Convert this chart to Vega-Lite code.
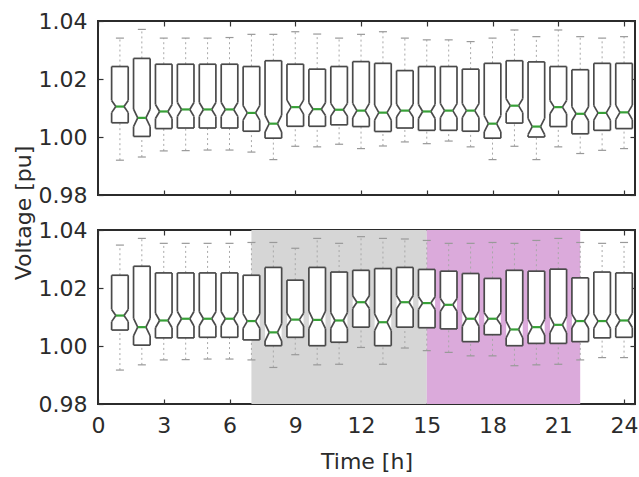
{
  "$schema": "https://vega.github.io/schema/vega-lite/v6.json",
  "description": "Voltage spread per hour, two cases, notched boxplots",
  "background": "white",
  "padding": {"left": 11, "top": 9, "right": 0, "bottom": 0},
  "bounds": "flush",
  "spacing": 35,
  "config": {
    "font": "DejaVu Sans",
    "view": {"stroke": "#2b2b2b", "strokeWidth": 2},
    "axis": {
      "domain": false,
      "grid": false,
      "tickSize": -5,
      "tickColor": "#333333",
      "tickWidth": 1.2,
      "labelFont": "DejaVu Sans",
      "labelFontSize": 22,
      "labelColor": "#2b2b2b",
      "labelPadding": 16,
      "titleFont": "DejaVu Sans",
      "titleFontSize": 22,
      "titleFontWeight": "normal",
      "titleColor": "#2b2b2b"
    },
    "axisX": {"labelFlush": false, "labelOverlap": false, "labelPadding": 16},
    "rule": {"color": "#4a4a4a", "strokeWidth": 1.7}
  },
  "datasets": {
    "top": [
      {"t": 1, "wlo": 0.9920, "q1": 1.0049, "nlo": 1.0084, "med": 1.0105, "nhi": 1.0126, "q3": 1.0243, "whi": 1.0341},
      {"t": 2, "wlo": 0.9931, "q1": 1.0002, "nlo": 1.0036, "med": 1.0066, "nhi": 1.0096, "q3": 1.0271, "whi": 1.0371},
      {"t": 3, "wlo": 0.9952, "q1": 1.0029, "nlo": 1.0064, "med": 1.0088, "nhi": 1.0112, "q3": 1.0251, "whi": 1.0341},
      {"t": 4, "wlo": 0.9953, "q1": 1.0031, "nlo": 1.0071, "med": 1.0095, "nhi": 1.0119, "q3": 1.0251, "whi": 1.0341},
      {"t": 5, "wlo": 0.9955, "q1": 1.0031, "nlo": 1.0071, "med": 1.0095, "nhi": 1.0119, "q3": 1.0251, "whi": 1.0341},
      {"t": 6, "wlo": 0.9955, "q1": 1.0031, "nlo": 1.0071, "med": 1.0095, "nhi": 1.0119, "q3": 1.0251, "whi": 1.0343},
      {"t": 7, "wlo": 0.9948, "q1": 1.0020, "nlo": 1.0058, "med": 1.0083, "nhi": 1.0108, "q3": 1.0243, "whi": 1.0354},
      {"t": 8, "wlo": 0.9922, "q1": 0.9996, "nlo": 1.0017, "med": 1.0046, "nhi": 1.0075, "q3": 1.0263, "whi": 1.0354},
      {"t": 9, "wlo": 0.9968, "q1": 1.0037, "nlo": 1.0079, "med": 1.0103, "nhi": 1.0127, "q3": 1.0251, "whi": 1.0363},
      {"t": 10, "wlo": 0.9966, "q1": 1.0037, "nlo": 1.0074, "med": 1.0096, "nhi": 1.0118, "q3": 1.0234, "whi": 1.0355},
      {"t": 11, "wlo": 0.9975, "q1": 1.0042, "nlo": 1.0072, "med": 1.0094, "nhi": 1.0116, "q3": 1.0243, "whi": 1.0341},
      {"t": 12, "wlo": 0.9960, "q1": 1.0036, "nlo": 1.0066, "med": 1.0091, "nhi": 1.0116, "q3": 1.0260, "whi": 1.0354},
      {"t": 13, "wlo": 0.9969, "q1": 1.0019, "nlo": 1.0058, "med": 1.0084, "nhi": 1.0110, "q3": 1.0254, "whi": 1.0363},
      {"t": 14, "wlo": 0.9983, "q1": 1.0031, "nlo": 1.0069, "med": 1.0091, "nhi": 1.0113, "q3": 1.0229, "whi": 1.0341},
      {"t": 15, "wlo": 0.9977, "q1": 1.0023, "nlo": 1.0064, "med": 1.0088, "nhi": 1.0112, "q3": 1.0243, "whi": 1.0335},
      {"t": 16, "wlo": 0.9986, "q1": 1.0023, "nlo": 1.0067, "med": 1.0091, "nhi": 1.0115, "q3": 1.0243, "whi": 1.0335},
      {"t": 17, "wlo": 0.9966, "q1": 1.0020, "nlo": 1.0067, "med": 1.0091, "nhi": 1.0115, "q3": 1.0234, "whi": 1.0329},
      {"t": 18, "wlo": 0.9922, "q1": 0.9996, "nlo": 1.0018, "med": 1.0046, "nhi": 1.0074, "q3": 1.0254, "whi": 1.0341},
      {"t": 19, "wlo": 0.9968, "q1": 1.0048, "nlo": 1.0084, "med": 1.0108, "nhi": 1.0132, "q3": 1.0263, "whi": 1.0369},
      {"t": 20, "wlo": 0.9922, "q1": 1.0000, "nlo": 1.0008, "med": 1.0036, "nhi": 1.0064, "q3": 1.0259, "whi": 1.0346},
      {"t": 21, "wlo": 0.9966, "q1": 1.0036, "nlo": 1.0080, "med": 1.0103, "nhi": 1.0126, "q3": 1.0243, "whi": 1.0369},
      {"t": 22, "wlo": 0.9943, "q1": 1.0011, "nlo": 1.0056, "med": 1.0080, "nhi": 1.0104, "q3": 1.0232, "whi": 1.0346},
      {"t": 23, "wlo": 0.9954, "q1": 1.0023, "nlo": 1.0058, "med": 1.0083, "nhi": 1.0108, "q3": 1.0254, "whi": 1.0341},
      {"t": 24, "wlo": 0.9960, "q1": 1.0029, "nlo": 1.0060, "med": 1.0085, "nhi": 1.0110, "q3": 1.0254, "whi": 1.0346}
    ],
    "bottom": [
      {"t": 1, "wlo": 0.9917, "q1": 1.0055, "nlo": 1.0084, "med": 1.0105, "nhi": 1.0126, "q3": 1.0244, "whi": 1.0348},
      {"t": 2, "wlo": 0.9935, "q1": 1.0003, "nlo": 1.0035, "med": 1.0065, "nhi": 1.0095, "q3": 1.0275, "whi": 1.0371},
      {"t": 3, "wlo": 0.9952, "q1": 1.0028, "nlo": 1.0063, "med": 1.0088, "nhi": 1.0113, "q3": 1.0252, "whi": 1.0354},
      {"t": 4, "wlo": 0.9953, "q1": 1.0028, "nlo": 1.0069, "med": 1.0094, "nhi": 1.0119, "q3": 1.0252, "whi": 1.0354},
      {"t": 5, "wlo": 0.9955, "q1": 1.0030, "nlo": 1.0070, "med": 1.0094, "nhi": 1.0118, "q3": 1.0252, "whi": 1.0354},
      {"t": 6, "wlo": 0.9955, "q1": 1.0030, "nlo": 1.0070, "med": 1.0094, "nhi": 1.0118, "q3": 1.0252, "whi": 1.0354},
      {"t": 7, "wlo": 0.9952, "q1": 1.0021, "nlo": 1.0061, "med": 1.0086, "nhi": 1.0111, "q3": 1.0244, "whi": 1.0357},
      {"t": 8, "wlo": 0.9926, "q1": 1.0001, "nlo": 1.0017, "med": 1.0047, "nhi": 1.0077, "q3": 1.0271, "whi": 1.0357},
      {"t": 9, "wlo": 0.9970, "q1": 1.0030, "nlo": 1.0069, "med": 1.0091, "nhi": 1.0113, "q3": 1.0227, "whi": 1.0337},
      {"t": 10, "wlo": 0.9935, "q1": 1.0001, "nlo": 1.0060, "med": 1.0090, "nhi": 1.0120, "q3": 1.0271, "whi": 1.0371},
      {"t": 11, "wlo": 0.9937, "q1": 1.0013, "nlo": 1.0061, "med": 1.0088, "nhi": 1.0115, "q3": 1.0255, "whi": 1.0354},
      {"t": 12, "wlo": 0.9995, "q1": 1.0065, "nlo": 1.0129, "med": 1.0151, "nhi": 1.0173, "q3": 1.0261, "whi": 1.0377},
      {"t": 13, "wlo": 0.9937, "q1": 1.0001, "nlo": 1.0053, "med": 1.0082, "nhi": 1.0111, "q3": 1.0267, "whi": 1.0371},
      {"t": 14, "wlo": 0.9993, "q1": 1.0065, "nlo": 1.0128, "med": 1.0151, "nhi": 1.0174, "q3": 1.0271, "whi": 1.0369},
      {"t": 15, "wlo": 0.9984, "q1": 1.0063, "nlo": 1.0126, "med": 1.0148, "nhi": 1.0170, "q3": 1.0264, "whi": 1.0364},
      {"t": 16, "wlo": 0.9978, "q1": 1.0059, "nlo": 1.0120, "med": 1.0142, "nhi": 1.0164, "q3": 1.0258, "whi": 1.0354},
      {"t": 17, "wlo": 0.9966, "q1": 1.0015, "nlo": 1.0068, "med": 1.0094, "nhi": 1.0120, "q3": 1.0250, "whi": 1.0354},
      {"t": 18, "wlo": 0.9966, "q1": 1.0039, "nlo": 1.0073, "med": 1.0094, "nhi": 1.0115, "q3": 1.0233, "whi": 1.0357},
      {"t": 19, "wlo": 0.9932, "q1": 1.0001, "nlo": 1.0028, "med": 1.0057, "nhi": 1.0086, "q3": 1.0261, "whi": 1.0354},
      {"t": 20, "wlo": 0.9935, "q1": 1.0009, "nlo": 1.0038, "med": 1.0065, "nhi": 1.0092, "q3": 1.0258, "whi": 1.0364},
      {"t": 21, "wlo": 0.9937, "q1": 1.0009, "nlo": 1.0045, "med": 1.0073, "nhi": 1.0101, "q3": 1.0265, "whi": 1.0371},
      {"t": 22, "wlo": 0.9952, "q1": 1.0015, "nlo": 1.0062, "med": 1.0086, "nhi": 1.0110, "q3": 1.0235, "whi": 1.0357},
      {"t": 23, "wlo": 0.9960, "q1": 1.0028, "nlo": 1.0061, "med": 1.0086, "nhi": 1.0111, "q3": 1.0255, "whi": 1.0354},
      {"t": 24, "wlo": 0.9960, "q1": 1.0030, "nlo": 1.0064, "med": 1.0088, "nhi": 1.0112, "q3": 1.0252, "whi": 1.0357}
    ],
    "shade": [
      {"from": 7, "to": 15, "period": "day"},
      {"from": 15, "to": 22, "period": "evening"}
    ]
  },
  "vconcat": [
    {
      "width": 537,
      "height": 174,
      "layer": [
        {
          "data": {"name": "top"},
          "encoding": {
            "x": {"field": "t", "type": "quantitative", "scale": {"domain": [0, 24.5], "nice": false}, "axis": null}
          },
          "layer": [
            {
              "mark": {"type": "rule", "color": "#a8a8a8", "strokeWidth": 1, "strokeDash": [2, 3]},
              "encoding": {
                "y": {"field": "q3", "type": "quantitative", "scale": {"domain": [0.98, 1.04], "nice": false}, "axis": null},
                "y2": {"field": "whi"}
              }
            },
            {
              "mark": {"type": "rule", "color": "#a8a8a8", "strokeWidth": 1, "strokeDash": [2, 3]},
              "encoding": {"y": {"field": "wlo", "type": "quantitative", "axis": null}, "y2": {"field": "q1"}}
            },
            {
              "mark": {"type": "rule", "color": "#999999", "strokeWidth": 1.2, "xOffset": -4, "x2Offset": 4},
              "encoding": {"x2": {"field": "t"}, "y": {"field": "whi", "type": "quantitative", "axis": null}}
            },
            {
              "mark": {"type": "rule", "color": "#999999", "strokeWidth": 1.2, "xOffset": -4, "x2Offset": 4},
              "encoding": {"x2": {"field": "t"}, "y": {"field": "wlo", "type": "quantitative", "axis": null}}
            },
            {
              "mark": {"type": "rect", "fill": "white", "xOffset": -8.3, "x2Offset": 8.3},
              "encoding": {"x2": {"field": "t"}, "y": {"field": "q1", "type": "quantitative", "axis": null}, "y2": {"field": "q3"}}
            },
            {
              "mark": {"type": "rule", "xOffset": -8.3},
              "encoding": {"y": {"field": "q1", "type": "quantitative", "axis": null}, "y2": {"field": "nlo"}}
            },
            {
              "mark": {"type": "rule", "xOffset": 8.3},
              "encoding": {"y": {"field": "q1", "type": "quantitative", "axis": null}, "y2": {"field": "nlo"}}
            },
            {
              "mark": {"type": "rule", "xOffset": -8.3},
              "encoding": {"y": {"field": "nhi", "type": "quantitative", "axis": null}, "y2": {"field": "q3"}}
            },
            {
              "mark": {"type": "rule", "xOffset": 8.3},
              "encoding": {"y": {"field": "nhi", "type": "quantitative", "axis": null}, "y2": {"field": "q3"}}
            },
            {
              "mark": {"type": "rule", "xOffset": -8.3, "x2Offset": -4.1},
              "encoding": {"x2": {"field": "t"}, "y": {"field": "nlo", "type": "quantitative", "axis": null}, "y2": {"field": "med"}}
            },
            {
              "mark": {"type": "rule", "xOffset": -8.3, "x2Offset": -4.1},
              "encoding": {"x2": {"field": "t"}, "y": {"field": "nhi", "type": "quantitative", "axis": null}, "y2": {"field": "med"}}
            },
            {
              "mark": {"type": "rule", "xOffset": 8.3, "x2Offset": 4.1},
              "encoding": {"x2": {"field": "t"}, "y": {"field": "nlo", "type": "quantitative", "axis": null}, "y2": {"field": "med"}}
            },
            {
              "mark": {"type": "rule", "xOffset": 8.3, "x2Offset": 4.1},
              "encoding": {"x2": {"field": "t"}, "y": {"field": "nhi", "type": "quantitative", "axis": null}, "y2": {"field": "med"}}
            },
            {
              "mark": {"type": "rule", "xOffset": -8.3, "x2Offset": 8.3},
              "encoding": {"x2": {"field": "t"}, "y": {"field": "q1", "type": "quantitative", "axis": null}}
            },
            {
              "mark": {"type": "rule", "xOffset": -8.3, "x2Offset": 8.3},
              "encoding": {"x2": {"field": "t"}, "y": {"field": "q3", "type": "quantitative", "axis": null}}
            },
            {
              "mark": {"type": "rule", "color": "#37a037", "strokeWidth": 2.2, "xOffset": -4.1, "x2Offset": 4.1},
              "encoding": {"x2": {"field": "t"}, "y": {"field": "med", "type": "quantitative", "axis": null}}
            }
          ]
        },
        {
          "data": {"name": "top"},
          "mark": {"type": "point", "opacity": 0},
          "encoding": {
            "x": {
              "field": "t",
              "type": "quantitative",
              "scale": {"domain": [0, 24.5], "nice": false},
              "axis": {"values": [0, 3, 6, 9, 12, 15, 18, 21, 24], "labels": false, "title": null}
            },
            "y": {
              "field": "med",
              "type": "quantitative",
              "scale": {"domain": [0.98, 1.04], "nice": false},
              "axis": {
                "values": [0.98, 1.0, 1.02, 1.04],
                "format": ".2f",
                "title": "Voltage [pu]",
                "titleX": -75,
                "titleY": 191.5,
                "titleAngle": -90,
                "titleAlign": "center",
                "titleBaseline": "middle"
              }
            }
          }
        },
        {
          "data": {"name": "top"},
          "mark": {"type": "point", "opacity": 0},
          "encoding": {
            "x": {
              "field": "t",
              "type": "quantitative",
              "scale": {"domain": [0, 24.5], "nice": false},
              "axis": {"orient": "top", "values": [0, 3, 6, 9, 12, 15, 18, 21, 24], "labels": false, "title": null}
            },
            "y": {
              "field": "med",
              "type": "quantitative",
              "scale": {"domain": [0.98, 1.04], "nice": false},
              "axis": {"orient": "right", "values": [0.98, 1.0, 1.02, 1.04], "labels": false, "title": null}
            }
          }
        }
      ],
      "resolve": {"axis": {"x": "independent", "y": "independent"}}
    },
    {
      "width": 537,
      "height": 174,
      "layer": [
        {
          "data": {"name": "shade"},
          "mark": {"type": "rect"},
          "encoding": {
            "x": {"field": "from", "type": "quantitative", "scale": {"domain": [0, 24.5], "nice": false}, "axis": null},
            "x2": {"field": "to"},
            "color": {
              "field": "period",
              "type": "nominal",
              "scale": {"domain": ["day", "evening"], "range": ["#d6d6d6", "#dbaadb"]},
              "legend": null
            }
          }
        },
        {
          "data": {"name": "bottom"},
          "encoding": {
            "x": {"field": "t", "type": "quantitative", "scale": {"domain": [0, 24.5], "nice": false}, "axis": null}
          },
          "layer": [
            {
              "mark": {"type": "rule", "color": "#a8a8a8", "strokeWidth": 1, "strokeDash": [2, 3]},
              "encoding": {
                "y": {"field": "q3", "type": "quantitative", "scale": {"domain": [0.98, 1.04], "nice": false}, "axis": null},
                "y2": {"field": "whi"}
              }
            },
            {
              "mark": {"type": "rule", "color": "#a8a8a8", "strokeWidth": 1, "strokeDash": [2, 3]},
              "encoding": {"y": {"field": "wlo", "type": "quantitative", "axis": null}, "y2": {"field": "q1"}}
            },
            {
              "mark": {"type": "rule", "color": "#999999", "strokeWidth": 1.2, "xOffset": -4, "x2Offset": 4},
              "encoding": {"x2": {"field": "t"}, "y": {"field": "whi", "type": "quantitative", "axis": null}}
            },
            {
              "mark": {"type": "rule", "color": "#999999", "strokeWidth": 1.2, "xOffset": -4, "x2Offset": 4},
              "encoding": {"x2": {"field": "t"}, "y": {"field": "wlo", "type": "quantitative", "axis": null}}
            },
            {
              "mark": {"type": "rect", "fill": "white", "xOffset": -8.3, "x2Offset": 8.3},
              "encoding": {"x2": {"field": "t"}, "y": {"field": "q1", "type": "quantitative", "axis": null}, "y2": {"field": "q3"}}
            },
            {
              "mark": {"type": "rule", "xOffset": -8.3},
              "encoding": {"y": {"field": "q1", "type": "quantitative", "axis": null}, "y2": {"field": "nlo"}}
            },
            {
              "mark": {"type": "rule", "xOffset": 8.3},
              "encoding": {"y": {"field": "q1", "type": "quantitative", "axis": null}, "y2": {"field": "nlo"}}
            },
            {
              "mark": {"type": "rule", "xOffset": -8.3},
              "encoding": {"y": {"field": "nhi", "type": "quantitative", "axis": null}, "y2": {"field": "q3"}}
            },
            {
              "mark": {"type": "rule", "xOffset": 8.3},
              "encoding": {"y": {"field": "nhi", "type": "quantitative", "axis": null}, "y2": {"field": "q3"}}
            },
            {
              "mark": {"type": "rule", "xOffset": -8.3, "x2Offset": -4.1},
              "encoding": {"x2": {"field": "t"}, "y": {"field": "nlo", "type": "quantitative", "axis": null}, "y2": {"field": "med"}}
            },
            {
              "mark": {"type": "rule", "xOffset": -8.3, "x2Offset": -4.1},
              "encoding": {"x2": {"field": "t"}, "y": {"field": "nhi", "type": "quantitative", "axis": null}, "y2": {"field": "med"}}
            },
            {
              "mark": {"type": "rule", "xOffset": 8.3, "x2Offset": 4.1},
              "encoding": {"x2": {"field": "t"}, "y": {"field": "nlo", "type": "quantitative", "axis": null}, "y2": {"field": "med"}}
            },
            {
              "mark": {"type": "rule", "xOffset": 8.3, "x2Offset": 4.1},
              "encoding": {"x2": {"field": "t"}, "y": {"field": "nhi", "type": "quantitative", "axis": null}, "y2": {"field": "med"}}
            },
            {
              "mark": {"type": "rule", "xOffset": -8.3, "x2Offset": 8.3},
              "encoding": {"x2": {"field": "t"}, "y": {"field": "q1", "type": "quantitative", "axis": null}}
            },
            {
              "mark": {"type": "rule", "xOffset": -8.3, "x2Offset": 8.3},
              "encoding": {"x2": {"field": "t"}, "y": {"field": "q3", "type": "quantitative", "axis": null}}
            },
            {
              "mark": {"type": "rule", "color": "#37a037", "strokeWidth": 2.2, "xOffset": -4.1, "x2Offset": 4.1},
              "encoding": {"x2": {"field": "t"}, "y": {"field": "med", "type": "quantitative", "axis": null}}
            }
          ]
        },
        {
          "data": {"name": "bottom"},
          "mark": {"type": "point", "opacity": 0},
          "encoding": {
            "x": {
              "field": "t",
              "type": "quantitative",
              "scale": {"domain": [0, 24.5], "nice": false},
              "axis": {"values": [0, 3, 6, 9, 12, 15, 18, 21, 24], "title": "Time [h]", "titlePadding": 15}
            },
            "y": {
              "field": "med",
              "type": "quantitative",
              "scale": {"domain": [0.98, 1.04], "nice": false},
              "axis": {"values": [0.98, 1.0, 1.02, 1.04], "format": ".2f", "title": null}
            }
          }
        },
        {
          "data": {"name": "bottom"},
          "mark": {"type": "point", "opacity": 0},
          "encoding": {
            "x": {
              "field": "t",
              "type": "quantitative",
              "scale": {"domain": [0, 24.5], "nice": false},
              "axis": {"orient": "top", "values": [0, 3, 6, 9, 12, 15, 18, 21, 24], "labels": false, "title": null}
            },
            "y": {
              "field": "med",
              "type": "quantitative",
              "scale": {"domain": [0.98, 1.04], "nice": false},
              "axis": {"orient": "right", "values": [0.98, 1.0, 1.02, 1.04], "labels": false, "title": null}
            }
          }
        }
      ],
      "resolve": {"axis": {"x": "independent", "y": "independent"}}
    }
  ]
}
